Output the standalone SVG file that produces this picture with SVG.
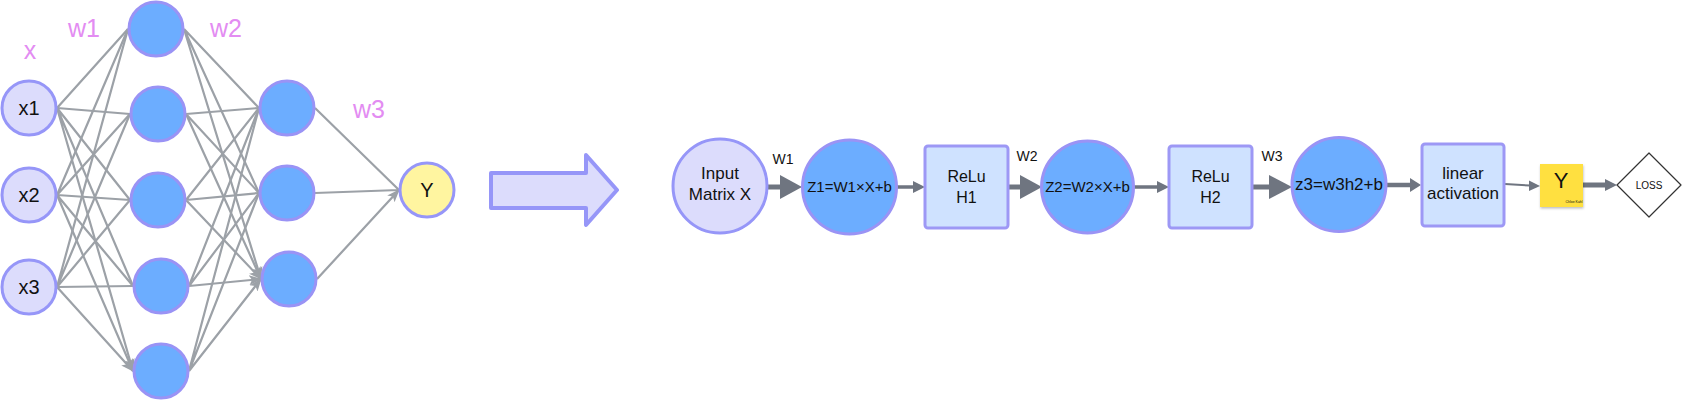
<svg xmlns="http://www.w3.org/2000/svg" width="1682" height="400" viewBox="0 0 1682 400">
<defs>
<style>
.txt{font-family:"Liberation Sans",Arial,sans-serif;fill:#111;text-anchor:middle}
.lbl{font-family:"Liberation Sans",Arial,sans-serif;fill:#e38cf2;text-anchor:middle;font-size:25px}
.inp{fill:#dcdcfc;stroke:#9696f8;stroke-width:3}
.hid{fill:#6cadff;stroke:#9a93f5;stroke-width:3}
.out{fill:#fff5a0;stroke:#9696f8;stroke-width:3}
.box{fill:#cfe2ff;stroke:#9d98f5;stroke-width:3}
.nn{stroke:#9ca1a7;stroke-width:2.2;fill:none;marker-end:url(#ah)}
.sh{stroke:#6f7580;fill:none}
.hd{fill:#6f7580}
</style>
<marker id="ah" markerUnits="userSpaceOnUse" markerWidth="14" markerHeight="12" refX="12" refY="6" orient="auto">
<path d="M0,1 L13,6 L0,11 L3,6 z" fill="#9ca1a7"/>
</marker>
<filter id="shd" x="-20%" y="-20%" width="150%" height="150%">
<feDropShadow dx="0.5" dy="1.5" stdDeviation="1" flood-color="#000" flood-opacity="0.25"/>
</filter>
</defs>

<g id="connectors">
<path class="nn" d="M57,108 L128,29 M57,108 L130,114 M57,108 L130,200 M57,108 L133,286 M57,108 L133,371"/>
<path class="nn" d="M57,195 L128,29 M57,195 L130,114 M57,195 L130,200 M57,195 L133,286 M57,195 L133,371"/>
<path class="nn" d="M57,287 L128,29 M57,287 L130,114 M57,287 L130,200 M57,287 L133,286 M57,287 L133,371"/>
<path class="nn" d="M184,29 L259,108 M184,29 L259,193 M184,29 L261,279"/>
<path class="nn" d="M186,114 L259,108 M186,114 L259,193 M186,114 L261,279"/>
<path class="nn" d="M186,200 L259,108 M186,200 L259,193 M186,200 L261,279"/>
<path class="nn" d="M189,286 L259,108 M189,286 L259,193 M189,286 L261,279"/>
<path class="nn" d="M189,371 L259,108 M189,371 L259,193 M189,371 L261,279"/>
<path class="nn" d="M315,108 L399,190 M315,193 L399,190 M317,279 L399,190"/>

<line class="sh" x1="768" y1="187" x2="782" y2="187" stroke-width="5"/>
<polygon class="hd" points="780,175 802,187 780,199"/>
<line class="sh" x1="897" y1="187" x2="915" y2="187" stroke-width="3.5"/>
<polygon class="hd" points="913,181 925,187 913,193"/>
<line class="sh" x1="1008" y1="187" x2="1022" y2="187" stroke-width="5"/>
<polygon class="hd" points="1020,175 1042,187 1020,199"/>
<line class="sh" x1="1133" y1="187" x2="1159" y2="187" stroke-width="3.5"/>
<polygon class="hd" points="1157,181 1169,187 1157,193"/>
<line class="sh" x1="1252" y1="187" x2="1271" y2="187" stroke-width="5"/>
<polygon class="hd" points="1269,175 1292,187 1269,199"/>
<line class="sh" x1="1386" y1="185" x2="1412" y2="185" stroke-width="4.5"/>
<polygon class="hd" points="1410,178 1421,185 1410,192"/>
<line class="sh" x1="1505" y1="184" x2="1530" y2="185.5" stroke-width="2"/>
<polygon class="hd" points="1529,180.5 1540,186 1529,191"/>
<line class="sh" x1="1583" y1="185" x2="1607" y2="185" stroke-width="5"/>
<polygon class="hd" points="1605,179 1617,185 1605,191"/>
</g>

<g id="labels">
<text class="lbl" x="30" y="59">x</text>
<text class="lbl" x="84" y="37">w1</text>
<text class="lbl" x="226" y="37">w2</text>
<text class="lbl" x="369" y="118">w3</text>
</g>

<g id="x1"><circle class="inp" cx="29" cy="108" r="27"/><text class="txt" x="29" y="115" font-size="20">x1</text></g>
<g id="x2"><circle class="inp" cx="29" cy="195" r="27"/><text class="txt" x="29" y="202" font-size="20">x2</text></g>
<g id="x3"><circle class="inp" cx="29" cy="287" r="27"/><text class="txt" x="29" y="294" font-size="20">x3</text></g>

<g id="h1a"><circle class="hid" cx="156" cy="29" r="27"/></g>
<g id="h1b"><circle class="hid" cx="158" cy="114" r="27"/></g>
<g id="h1c"><circle class="hid" cx="158" cy="200" r="27"/></g>
<g id="h1d"><circle class="hid" cx="161" cy="286" r="27"/></g>
<g id="h1e"><circle class="hid" cx="161" cy="371" r="27"/></g>

<g id="h2a"><circle class="hid" cx="287" cy="108" r="27"/></g>
<g id="h2b"><circle class="hid" cx="287" cy="193" r="27"/></g>
<g id="h2c"><circle class="hid" cx="289" cy="279" r="27"/></g>

<g id="yout"><circle class="out" cx="427" cy="190" r="27"/><text class="txt" x="427" y="197" font-size="20">Y</text></g>

<g id="bigarrow">
<path d="M491,173 L586,173 L586,155 L617,190 L586,225 L586,208 L491,208 Z" fill="#dcdcfc" stroke="#9696f8" stroke-width="4" stroke-linejoin="round"/>
</g>

<g id="wlabels">
<text class="txt" x="783" y="164" font-size="14">W1</text>
<text class="txt" x="1027" y="161" font-size="14">W2</text>
<text class="txt" x="1272" y="161" font-size="14">W3</text>
</g>

<g id="input"><circle class="inp" cx="720" cy="186" r="47"/>
<text class="txt" x="720" y="179" font-size="17">Input</text>
<text class="txt" x="720" y="200" font-size="17">Matrix X</text></g>

<g id="z1"><circle class="hid" cx="849.5" cy="187" r="47"/><text class="txt" x="849.5" y="192" font-size="15">Z1=W1×X+b</text></g>

<g id="relu1"><rect class="box" x="925" y="146" width="83" height="82" rx="3"/>
<text class="txt" x="966.5" y="182" font-size="16">ReLu</text>
<text class="txt" x="966.5" y="203" font-size="16">H1</text></g>

<g id="z2"><circle class="hid" cx="1087.5" cy="187" r="46"/><text class="txt" x="1087.5" y="192" font-size="15">Z2=W2×X+b</text></g>

<g id="relu2"><rect class="box" x="1169" y="146" width="83" height="82" rx="3"/>
<text class="txt" x="1210.5" y="182" font-size="16">ReLu</text>
<text class="txt" x="1210.5" y="203" font-size="16">H2</text></g>

<g id="z3"><circle class="hid" cx="1339" cy="184.5" r="47"/><text class="txt" x="1339" y="190" font-size="17">z3=w3h2+b</text></g>

<g id="linear"><rect class="box" x="1422" y="144" width="82" height="82" rx="3"/>
<text class="txt" x="1463" y="179" font-size="17">linear</text>
<text class="txt" x="1463" y="199" font-size="17">activation</text></g>

<g id="ysticky"><rect x="1540" y="164" width="43" height="43" fill="#ffe040" filter="url(#shd)"/>
<text class="txt" x="1561" y="188" font-size="22">Y</text>
<text class="txt" x="1574" y="203" font-size="3.5" fill="#555">Chloe Kahl</text></g>

<g id="loss"><polygon points="1649,153 1681,185 1649,217 1617,185" fill="#fff" stroke="#333" stroke-width="1.2" stroke-linejoin="round"/>
<text class="txt" x="1649" y="189" font-size="10">LOSS</text></g>
</svg>
